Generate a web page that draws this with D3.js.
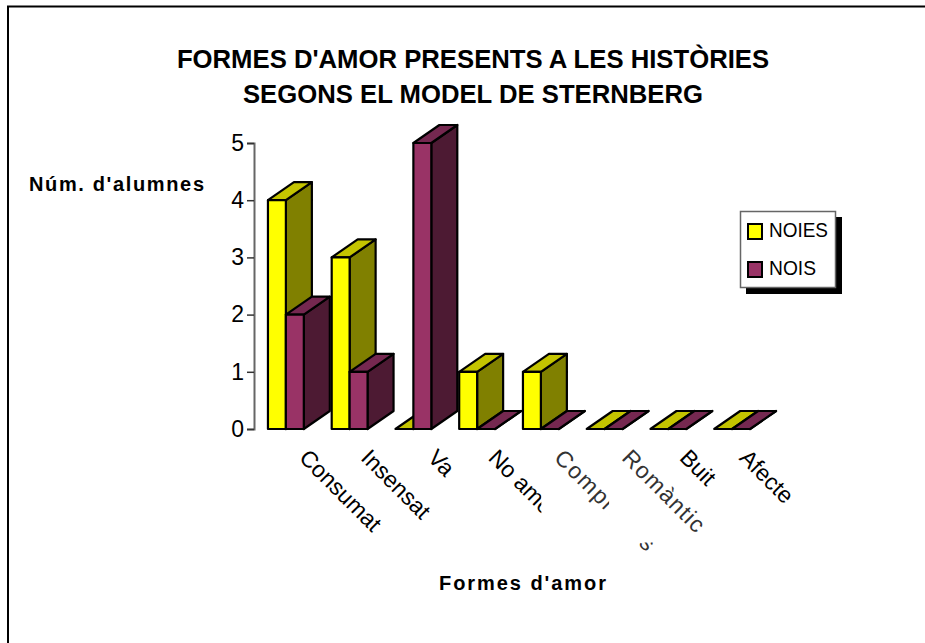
<!DOCTYPE html>
<html><head><meta charset="utf-8">
<script src="https://cdn.jsdelivr.net/npm/d3@7/dist/d3.min.js"></script>
<style>html,body{margin:0;padding:0;background:#fff}svg{display:block}text{font-family:"Liberation Sans",Arial,sans-serif;fill:#000}</style>
</head><body>
<svg id="c" width="925" height="643"></svg>
<script>
const categories = ["Consumat","Insensat","Va","No amor","Compromís","Romàntic","Buit","Afecte"];
const noies = [4,3,0,1,1,0,0,0];
const nois = [2,1,5,0,0,0,0,0];
const yTicks = [0,1,2,3,4,5];
const seriesNames = ["NOIES","NOIS"];
const titleLines = ["FORMES D'AMOR PRESENTS A LES HISTÒRIES","SEGONS EL MODEL DE STERNBERG"];
const yTitle = "Núm. d'alumnes";
const xTitle = "Formes d'amor";

// layout of the slanted labels, separate from the data
const labelLayout = {
  "Consumat": {dx:2},
  "Va": {dx:3},
  "Compromís": {dx:2, length:132, mask:true},
  "Romàntic": {dx:6, length:106, mask:true},
  "Afecte": {dx:-4}
};

const svg = d3.select("#c");
const palette = [
  {front:"#ffff00", top:"#c4c400", side:"#808000"},
  {front:"#993366", top:"#752850", side:"#4d1a33"}
];
const depthX = 26, depthY = 18;
const x = d3.scaleBand().domain(categories).range([254,764]).paddingInner(28/64).paddingOuter(14/64);
const sub = d3.scaleBand().domain(seriesNames).range([0,x.bandwidth()]);
const y = d3.scaleLinear().domain([0,5]).range([429,143]);

// frame (top and left only reach the picture)
svg.append("path").attr("d","M925,6.5H8V643").attr("fill","none").attr("stroke","#000").attr("stroke-width",2);

// titles
svg.selectAll("text.t").data(titleLines).join("text").attr("class","t")
  .attr("x",473).attr("y",(d,i)=>68+i*35).attr("text-anchor","middle")
  .attr("font-size",25.7).attr("font-weight","bold").text(d=>d);
svg.append("text").attr("x",29).attr("y",191).attr("font-size",20).attr("font-weight","bold")
  .attr("textLength",175).attr("lengthAdjust","spacing").text(yTitle);
svg.append("text").attr("x",439).attr("y",590).attr("font-size",20).attr("font-weight","bold")
  .attr("textLength",167).attr("lengthAdjust","spacing").text(xTitle);

// y axis
const ax = svg.append("g").attr("transform","translate(254,0)")
  .call(d3.axisLeft(y).tickValues(yTicks).tickFormat(d3.format("d")).tickSize(7).tickPadding(3));
ax.select(".domain").attr("stroke","#666").attr("stroke-width",2);
ax.selectAll(".tick line").attr("stroke","#333").attr("stroke-width",1.5);
ax.selectAll(".tick text").attr("font-size",23).attr("font-family","Liberation Sans");

// bars
const pt = a => a.map(p=>p.join(",")).join(" ");
categories.forEach((c,i)=>{
  [noies,nois].forEach((vals,s)=>{
    const x0 = x(c)+sub(seriesNames[s]), x1 = x0+sub.bandwidth();
    const yb = y(0), yt = y(vals[i]), col = palette[s];
    const g = svg.append("g").attr("stroke","#000").attr("stroke-width",2.2).attr("stroke-linejoin","round");
    g.append("polygon").attr("fill",col.side).attr("points",pt([[x1,yt],[x1+depthX,yt-depthY],[x1+depthX,yb-depthY],[x1,yb]]));
    g.append("polygon").attr("fill",col.top).attr("points",pt([[x0,yt],[x0+depthX,yt-depthY],[x1+depthX,yt-depthY],[x1,yt]]));
    if(vals[i]>0) g.append("rect").attr("x",x0).attr("y",yt).attr("width",x1-x0).attr("height",yb-yt).attr("fill",col.front);
  });
});

// category labels: two of them paint a white box over their neighbour, as in the original
const labels = svg.append("g");
categories.forEach(c=>{
  const g = labels.append("g");
  const lay = labelLayout[c] || {};
  const r = g.append("rect").attr("fill","#fff");
  const px = x(c)+x.bandwidth()/2+10+(lay.dx||0), py = 459;
  const t = g.append("text").attr("font-size",23)
    .attr("transform",`translate(${px},${py}) rotate(45)`).text(c);
  if(lay.length) t.attr("textLength",lay.length).attr("lengthAdjust","spacing");
  if(lay.mask){
    t.style("fill","#333");
    const b = t.node().getBoundingClientRect();
    r.attr("x",b.left-8).attr("y",b.top).attr("width",b.width+8).attr("height",b.height+5);
  } else r.remove();
});

// legend
const lg = svg.append("g");
lg.append("rect").attr("x",746).attr("y",217).attr("width",96).attr("height",77).attr("fill","#000");
lg.append("rect").attr("x",740.5).attr("y",211.5).attr("width",95).attr("height",76).attr("fill","#fff").attr("stroke","#666").attr("stroke-width",1.5);
seriesNames.forEach((n,i)=>{
  const yy = 224+i*38;
  lg.append("rect").attr("x",748).attr("y",yy).attr("width",14).attr("height",15)
    .attr("fill",palette[i].front).attr("stroke","#000").attr("stroke-width",2);
  lg.append("text").attr("x",769).attr("y",yy+13).attr("font-size",21)
    .attr("textLength",i===0?59:47).attr("lengthAdjust","spacingAndGlyphs").text(n);
});
</script>
</body></html>
